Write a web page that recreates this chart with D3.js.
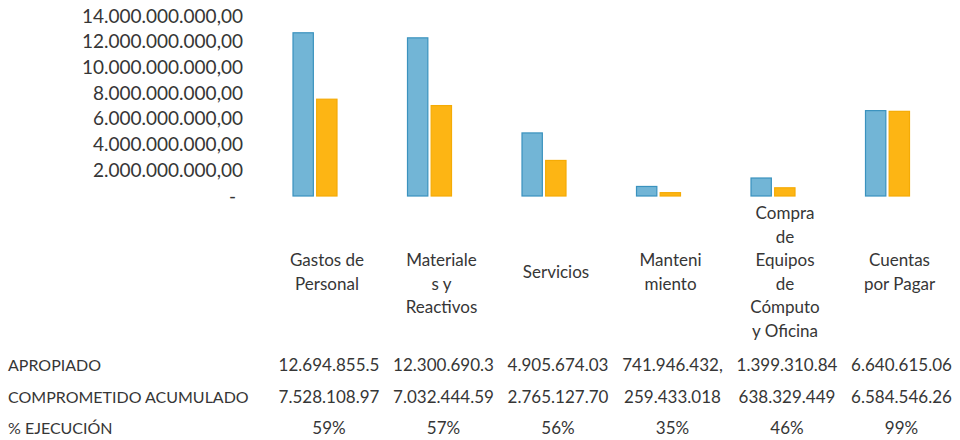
<!DOCTYPE html>
<html>
<head>
<meta charset="utf-8">
<script src="https://cdn.jsdelivr.net/npm/d3@7"></script>
<style>
  body { margin: 0; background: #fff; }
  svg { display: block; font-family: Lato, "Open Sans", sans-serif; }
</style>
</head>
<body>
<svg id="chart" width="960" height="440"></svg>
<script>
"use strict";

// categories, each one split in the lines shown under the bars
const categories = ["Gastos de Personal", "Materiales y Reactivos", "Servicios",
                    "Mantenimiento", "Compra de Equipos de Cómputo y Oficina", "Cuentas por Pagar"];
const categoryLines = [
    ["Gastos de", "Personal"],
    ["", "Materiale", "s y", "Reactivos"],
    ["Servicios"],
    ["Manteni", "miento"],
    ["Compra", "de", "Equipos", "de", "Cómputo", "y Oficina"],
    ["Cuentas", "por Pagar"]
];

const series = ["APROPIADO", "COMPROMETIDO ACUMULADO"];
const apropiado = [12694855500, 12300690300, 4905674030, 741946432, 1399310840, 6640615060];
const comprometido = [7528108970, 7032444590, 2765127700, 259433018, 638329449, 6584546260];

// table text as printed (cells are clipped in the original)
const apropiadoText = ["12.694.855.5", "12.300.690.3", "4.905.674.03", "741.946.432,", "1.399.310.84", "6.640.615.06"];
const comprometidoText = ["7.528.108.97", "7.032.444.59", "2.765.127.70", "259.433.018", "638.329.449", "6.584.546.26"];
const ejecucionText = ["59%", "57%", "56%", "35%", "46%", "99%"];
const rowLabels = ["APROPIADO", "COMPROMETIDO ACUMULADO", "% EJECUCIÓN"];

const yTicks = [0, 2e9, 4e9, 6e9, 8e9, 10e9, 12e9, 14e9];

const colors = { "APROPIADO": "#72b5d6", "COMPROMETIDO ACUMULADO": "#fdb514" };
const strokes = { "APROPIADO": "#3a92be", "COMPROMETIDO ACUMULADO": "#f5ab05" };
const textColor = "#363636";

const svg = d3.select("#chart");

const y = d3.scaleLinear().domain([0, 14e9]).range([196, 16]);
const x = d3.scaleBand().domain(categories).range([257.75, 944.75]);
const xSub = d3.scaleBand().domain(series).range([0, 44]).paddingInner(0.14);
const labelShift = 12;

const locale = d3.formatLocale({ decimal: ",", thousands: ".", grouping: [3], currency: ["", ""] });
const fmt = locale.format(",.2f");

// y axis, no line and no ticks
const yAxis = svg.append("g")
    .attr("transform", "translate(243,0)")
    .call(d3.axisLeft(y).tickValues(yTicks).tickSize(0).tickPadding(0)
        .tickFormat(d => d === 0 ? "-" : fmt(d)));
yAxis.select(".domain").remove();
yAxis.selectAll("text")
    .attr("fill", textColor)
    .style("font-size", "19px")
    .style("font-family", "Lato, sans-serif")
    .attr("dx", d => d === 0 ? -7 : 0);

// bars
const rows = categories.map((c, i) => ({ cat: c, values: [apropiado[i], comprometido[i]] }));

const groups = svg.append("g").selectAll("g")
    .data(rows)
    .join("g")
    .attr("transform", d => `translate(${x(d.cat) + x.bandwidth() / 2 - 22},0)`);

groups.selectAll("rect")
    .data(d => series.map((s, j) => ({ s: s, v: d.values[j] })))
    .join("rect")
    .attr("x", d => xSub(d.s))
    .attr("width", xSub.bandwidth())
    .attr("y", d => y(d.v))
    .attr("height", d => y(0) - y(d.v))
    .attr("fill", d => colors[d.s])
    .attr("stroke", d => strokes[d.s])
    .attr("stroke-width", 1.2);

// category labels
const lineH = 23.5;
const labelMid = 272;
svg.append("g").selectAll("text")
    .data(categories)
    .join("text")
    .attr("text-anchor", "middle")
    .attr("fill", textColor)
    .style("font-size", "17px")
    .attr("transform", d => `translate(${x(d) + x.bandwidth() / 2 + labelShift},0)`)
    .each(function(d, i) {
        const lines = categoryLines[i];
        const top = labelMid - (lines.length - 1) * lineH / 2;
        d3.select(this).selectAll("tspan")
            .data(lines)
            .join("tspan")
            .attr("x", 0)
            .attr("y", (l, k) => top + k * lineH)
            .attr("dy", "0.35em")
            .text(l => l);
    });

// data table under the chart
const tableRows = [apropiadoText, comprometidoText, ejecucionText];
const rowY = [365, 397, 428];

const table = svg.append("g").attr("fill", textColor);

table.selectAll("text.row-label")
    .data(rowLabels)
    .join("text")
    .attr("class", "row-label")
    .style("font-size", "16px")
    .attr("x", 8)
    .attr("y", (d, i) => rowY[i])
    .attr("dy", "0.35em")
    .text(d => d);

tableRows.forEach((vals, r) => {
    table.append("g").selectAll("text")
        .data(vals)
        .join("text")
        .style("font-size", "17px")
        .attr("text-anchor", "middle")
        .attr("x", (d, i) => x(categories[i]) + x.bandwidth() / 2 + labelShift + 2)
        .attr("y", rowY[r])
        .attr("dy", "0.35em")
        .text(d => d);
});
</script>
</body>
</html>
